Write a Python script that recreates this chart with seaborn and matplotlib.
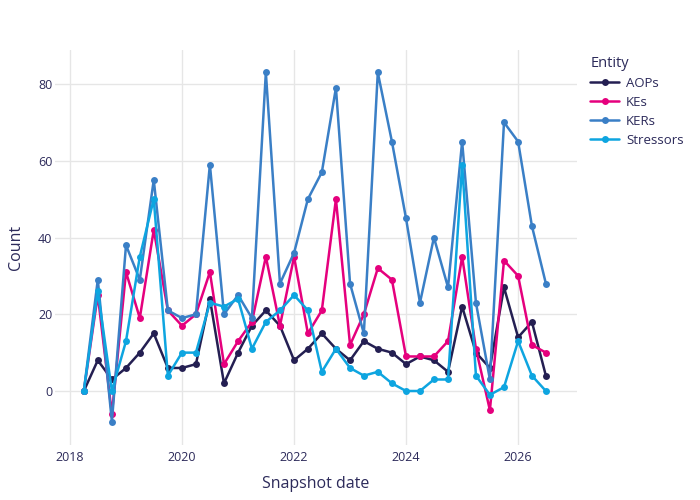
#!/usr/bin/env python3

"""
Quarterly counts per entity type, redrawn with seaborn.
"""

import matplotlib.pyplot as plt
import pandas as pd
import seaborn as sns

# quarterly snapshots, April 2018 .. July 2026
snapshot_dates = pd.date_range("2018-04-01", periods=34, freq="QS")

entities = ["AOPs", "KEs", "KERs", "Stressors"]

aops = [0, 8, 3, 6, 10, 15, 6, 6, 7, 24, 2, 10, 17, 21, 17, 8, 11,
        15, 11, 8, 13, 11, 10, 7, 9, 8, 5, 22, 10, 6, 27, 14, 18, 4]
kes = [0, 25, -6, 31, 19, 42, 21, 17, 20, 31, 7, 13, 18, 35, 17, 35, 15,
       21, 50, 12, 20, 32, 29, 9, 9, 9, 13, 35, 11, -5, 34, 30, 12, 10]
kers = [0, 29, -8, 38, 29, 55, 21, 19, 20, 59, 20, 25, 19, 83, 28, 36, 50,
        57, 79, 28, 15, 83, 65, 45, 23, 40, 27, 65, 23, 3, 70, 65, 43, 28]
stressors = [0, 26, 0, 13, 35, 50, 4, 10, 10, 23, 22, 24, 11, 18, 21, 25, 21,
             5, 11, 6, 4, 5, 2, 0, 0, 3, 3, 59, 4, -1, 1, 13, 4, 0]

palette = {
    "AOPs": "#241f52",
    "KEs": "#e5007d",
    "KERs": "#3a7fc6",
    "Stressors": "#0ea5e0",
}
text_color = "#2c2a5a"


def main():
    sns.set_theme(style="whitegrid")
    plt.rcParams["font.family"] = ["Open Sans", "DejaVu Sans"]

    frames = []
    for name, values in zip(entities, [aops, kes, kers, stressors]):
        frames.append(pd.DataFrame({"Snapshot date": snapshot_dates, "Count": values, "Entity": name}))
    df = pd.concat(frames, ignore_index=True)

    fig = plt.figure(figsize=(7, 5), dpi=100)
    ax = fig.add_axes([55 / 700, 1 - 445 / 500, 522 / 700, 395 / 500])

    sns.lineplot(
        data=df,
        x="Snapshot date",
        y="Count",
        hue="Entity",
        hue_order=entities,
        palette=palette,
        marker="o",
        markersize=5,
        markeredgewidth=0,
        linewidth=1.8,
        ax=ax,
    )

    ax.set_xlim(pd.Timestamp("2017-09-25"), pd.Timestamp("2027-01-20"))
    ax.set_ylim(-14.07, 88.86)
    ax.set_xticks(pd.to_datetime(["2018-01-01", "2020-01-01", "2022-01-01", "2024-01-01", "2026-01-01"]))
    ax.set_xticklabels(["2018", "2020", "2022", "2024", "2026"])
    ax.set_yticks([0, 20, 40, 60, 80])

    ax.grid(True, color="#e6e6e6", linewidth=1)
    for spine in ax.spines.values():
        spine.set_visible(False)
    ax.tick_params(axis="both", length=0, labelsize=9, colors=text_color)
    ax.tick_params(axis="x", pad=4)
    ax.tick_params(axis="y", pad=2)

    ax.set_xlabel("Snapshot date", fontsize=11.5, color=text_color, labelpad=9)
    ax.set_ylabel("Count", fontsize=11.5, color=text_color, labelpad=10)

    leg = ax.legend(
        title="Entity",
        loc="upper left",
        bbox_to_anchor=(1.008, 1.008),
        frameon=False,
        fontsize=9.5,
        title_fontsize=10.5,
        handlelength=2.2,
        handletextpad=0.5,
        labelspacing=0.45,
        borderaxespad=0.3,
    )
    leg._legend_box.align = "left"
    leg.get_title().set_color(text_color)
    for txt in leg.get_texts():
        txt.set_color(text_color)

    fig.savefig("out.png", dpi=100)


if __name__ == "__main__":
    main()
